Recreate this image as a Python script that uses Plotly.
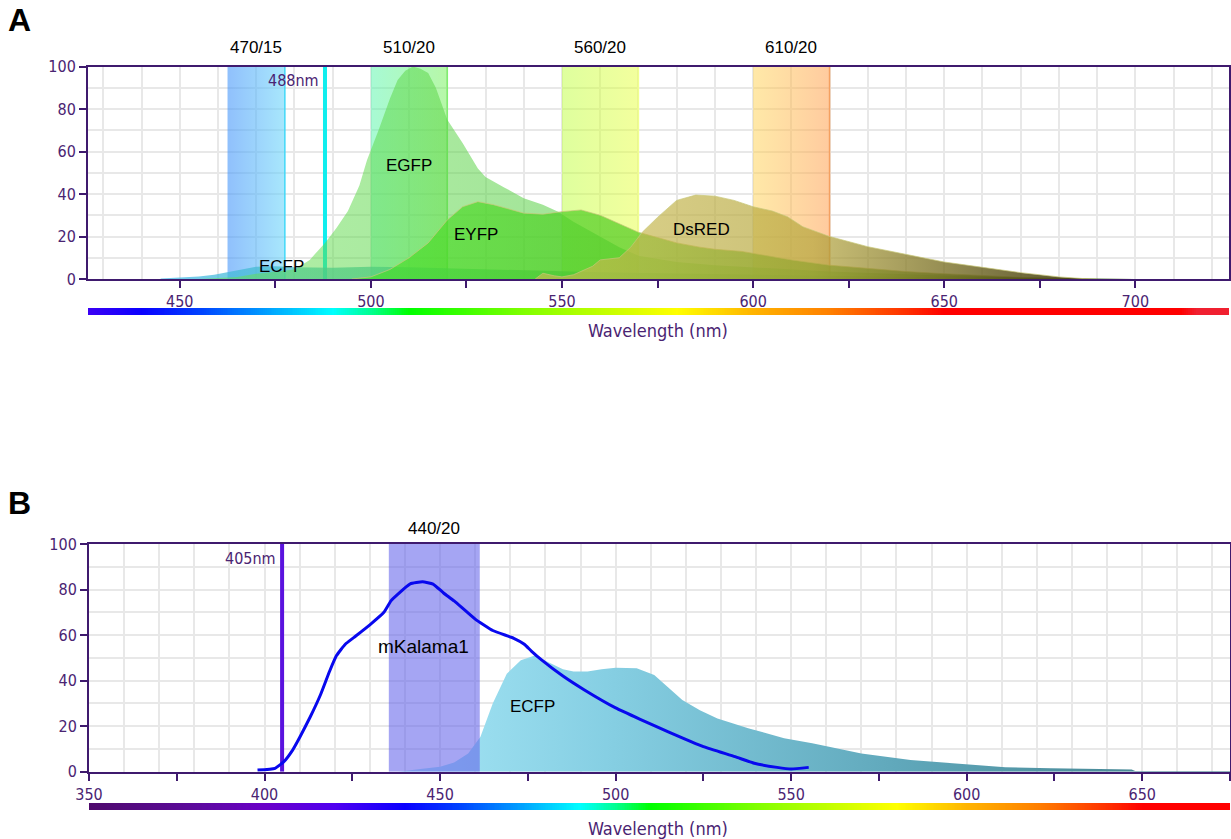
import numpy as np
import plotly.graph_objects as go

W, H = 1231, 839

# ---------------- Panel A data ----------------
A_ECFP_NM = [445, 450, 455, 459, 463, 470, 475, 480, 490, 500, 510, 520, 530, 540, 560, 580, 600, 620, 640, 660, 680, 700]
A_ECFP = [0.2, 0.6, 1.2, 2.0, 3.5, 5.8, 6.0, 5.5, 5.3, 5.8, 5.5, 5.0, 4.5, 4.0, 3.2, 2.6, 2.0, 1.5, 1.0, 0.5, 0.2, 0.0]

A_EGFP_NM = [455, 460, 465, 470, 475, 480, 484, 488, 491, 494, 497, 499, 502, 505, 507, 509, 511, 513, 515, 517, 520, 524,
             528, 530, 535, 540, 545, 549, 553, 557, 561, 565, 570, 575, 580, 590, 600, 610, 620, 640, 660, 680, 700]
A_EGFP = [0, 0.5, 1.0, 2.5, 3.5, 4.5, 9, 17, 24, 32, 44, 56, 70, 85, 93.6, 98, 100, 99, 97, 90, 75, 64,
          52, 48, 43, 38, 35, 31.7, 27, 23, 19, 15, 11, 9.5, 8, 6.5, 5.5, 4.5, 3.5, 2.2, 1.0, 0.3, 0]

A_EYFP_NM = [495, 500, 505, 510, 515, 520, 524, 528, 532, 536, 540, 545, 550, 555, 560, 565, 570, 575, 580, 586,
             590, 597, 600, 610, 620, 630, 640, 650, 660, 670, 680, 690]
A_EYFP = [0, 1.0, 4.5, 10, 17, 27.8, 34, 36.4, 35, 33, 31, 30.5, 31.7, 32.5, 30, 26, 22, 19.5, 17, 15,
          14, 13, 12, 9, 6.5, 5, 3.5, 2.5, 1.5, 0.8, 0.3, 0]

A_DSRED_NM = [543, 545, 548, 550, 553, 555, 558, 560, 563, 565, 568, 571, 575, 580, 585, 590, 595, 600, 605, 609,
              613, 620, 630, 640, 650, 660, 670, 680, 688]
A_DSRED = [0, 2.7, 1.5, 1.0, 2.0, 3.5, 6, 9, 9.5, 10, 15, 22, 29, 37, 39.5, 39, 37, 34, 32, 29.3,
           24.6, 20, 15.2, 11.5, 8, 5.5, 3, 1, 0]

A_BAND_LABELS = ["470/15", "510/20", "560/20", "610/20"]
A_BAND_LO = [462.5, 500, 550, 600]
A_BAND_HI = [477.5, 520, 570, 620]
A_LASER = 488

# ---------------- Panel B data ----------------
B_MKAL_NM = [398, 403, 405.5, 408, 410, 413, 416, 418.5, 420.5, 423, 425.5, 430, 434, 436, 438, 441.5, 445, 448, 451,
             454, 460, 465, 471, 474, 476, 479, 485, 491, 500, 507, 515, 525, 534, 539.5, 546, 550, 555]
B_MKAL = [0.7, 1.5, 4.4, 9.5, 15, 24, 34, 44, 51, 56, 59, 64.5, 70, 75, 78, 82.5, 83.4, 82.4, 78.5,
          75, 67, 62, 58.6, 56, 53, 49, 42, 36, 28, 23, 17.5, 11, 6.6, 3.7, 1.9, 1.2, 1.9]

B_ECFP_NM = [438, 441, 445, 450, 454, 458, 461.5, 465, 469, 473, 477, 481, 485, 488, 492, 496, 500, 506, 511, 515,
             519, 524, 529, 538, 548, 556, 562, 570, 584, 594, 603, 611, 624, 640, 647, 648, 675]
B_ECFP = [0, 0.7, 1.3, 2.2, 4, 8, 15.4, 30, 43, 49, 51, 48, 45, 44, 44, 45, 45.7, 45.4, 42.5, 37,
          31.5, 27, 23.4, 19, 14.7, 12.5, 10.5, 8, 5.1, 4, 2.9, 2, 1.5, 1.2, 1.0, 0.3, 0.3]

B_BAND_LABEL = "440/20"
B_BAND_LO = 435.4
B_BAND_HI = 461.3
B_LASER = 405

# spectrum colour bar stops
SPEC_NM = [350, 380, 400, 420, 440, 455, 470, 490, 500, 510, 540, 570, 580, 600, 620, 640, 650, 712, 716, 725]
SPEC_COL = ["#4e0a6c", "#5c0a9c", "#6a00c8", "#5000f0", "#0a00ff", "#0040ff", "#0090ff", "#00ffff", "#00ff90",
            "#00ff00", "#80ff00", "#e0ff00", "#ffff00", "#ffb400", "#ff8000", "#ff3000", "#ff0000", "#ff0000",
            "#f02030", "#f02030"]

PURPLE = "#3f1a6e"
TICKPURPLE = "#4a2472"
GRID = "#e8e8e8"
NARROW = "Liberation Sans Narrow, Arial Narrow, DejaVu Sans Condensed, sans-serif"
SANS = "Liberation Sans, Arial, sans-serif"

fig = go.Figure()

# ----- Panel A: bands (under spectra) -----
band_scales = [
    [[0, "rgba(70,150,250,0.6)"], [1, "rgba(110,215,250,0.6)"]],
    [[0, "rgba(80,245,170,0.5)"], [1, "rgba(110,240,80,0.5)"]],
    [[0, "rgba(190,255,60,0.5)"], [1, "rgba(230,255,60,0.5)"]],
    [[0, "rgba(255,210,80,0.5)"], [1, "rgba(255,160,80,0.55)"]],
]
band_edges = ["#40d8f8", "#80ee70", "#f0ff90", "#f5a060"]
for lo, hi, sc, ec in zip(A_BAND_LO, A_BAND_HI, band_scales, band_edges):
    fig.add_trace(go.Scatter(x=[lo, lo, hi, hi, lo], y=[0, 100, 100, 0, 0], mode="lines", fill="toself",
                             line=dict(width=0), fillgradient=dict(type="horizontal", colorscale=sc),
                             hoverinfo="skip", showlegend=False, xaxis="x", yaxis="y"))
    fig.add_trace(go.Scatter(x=[hi, hi], y=[0, 100], mode="lines", line=dict(width=1.5, color=ec),
                             hoverinfo="skip", showlegend=False, xaxis="x", yaxis="y"))

fig.add_trace(go.Scatter(x=[A_LASER, A_LASER], y=[0, 100], mode="lines", line=dict(width=4, color="#10eeee"),
                         hoverinfo="skip", showlegend=False, xaxis="x", yaxis="y"))

# ----- Panel A: spectra -----
specA = [
    (A_ECFP_NM, A_ECFP, [[0, "rgba(70,185,235,0.75)"], [0.3, "rgba(60,190,160,0.7)"], [1, "rgba(60,90,30,0.8)"]], 0),
    (A_EGFP_NM, A_EGFP, [[0, "rgba(100,225,80,0.5)"], [0.5, "rgba(80,200,60,0.55)"], [1, "rgba(60,100,20,0.8)"]], 0),
    (A_EYFP_NM, A_EYFP, [[0, "rgba(70,225,40,0.65)"], [0.4, "rgba(80,200,30,0.7)"], [1, "rgba(70,90,20,0.85)"]], 1),
    (A_DSRED_NM, A_DSRED, [[0, "rgba(205,190,80,0.65)"], [0.5, "rgba(180,165,60,0.7)"], [1, "rgba(60,55,15,0.9)"]], 1),
]
for xs, ys, sc, lw in specA:
    fig.add_trace(go.Scatter(x=xs, y=ys, mode="lines", fill="tozeroy",
                             line=dict(width=lw, color="rgba(200,200,120,0.7)" if lw else "rgba(0,0,0,0)"),
                             fillgradient=dict(type="horizontal", colorscale=sc),
                             hoverinfo="skip", showlegend=False, xaxis="x", yaxis="y"))

# ----- Panel B -----
fig.add_trace(go.Scatter(x=B_ECFP_NM, y=B_ECFP, mode="lines", fill="tozeroy", line=dict(width=0),
                         fillgradient=dict(type="horizontal",
                                           colorscale=[[0, "#a6e6f6"], [0.25, "#86cfe3"], [0.6, "#60a8bb"], [1, "#3f7c88"]]),
                         hoverinfo="skip", showlegend=False, xaxis="x2", yaxis="y2"))
fig.add_trace(go.Scatter(x=[B_BAND_LO, B_BAND_LO, B_BAND_HI, B_BAND_HI, B_BAND_LO], y=[0, 100, 100, 0, 0],
                         mode="lines", fill="toself", fillcolor="rgba(100,100,235,0.58)", line=dict(width=0),
                         hoverinfo="skip", showlegend=False, xaxis="x2", yaxis="y2"))
fig.add_trace(go.Scatter(x=[B_LASER, B_LASER], y=[0, 100], mode="lines", line=dict(width=4, color="#5a12de"),
                         hoverinfo="skip", showlegend=False, xaxis="x2", yaxis="y2"))
fig.add_trace(go.Scatter(x=B_MKAL_NM, y=B_MKAL, mode="lines",
                         line=dict(width=3, color="#0808ee", shape="spline", smoothing=0.4),
                         hoverinfo="skip", showlegend=False, xaxis="x2", yaxis="y2"))

# ----- colour bars -----
lo_all, hi_all = SPEC_NM[0], SPEC_NM[-1]
cscale = [[(n - lo_all) / (hi_all - lo_all), c] for n, c in zip(SPEC_NM, SPEC_COL)]
barA = np.arange(426, 725.5, 0.5)
barB = np.arange(350, 675.5, 0.5)
fig.add_trace(go.Heatmap(x=barA, y=[0], z=[barA], colorscale=cscale, zmin=lo_all, zmax=hi_all, showscale=False,
                         hoverinfo="skip", xaxis="x3", yaxis="y3"))
fig.add_trace(go.Heatmap(x=barB, y=[0], z=[barB], colorscale=cscale, zmin=lo_all, zmax=hi_all, showscale=False,
                         hoverinfo="skip", xaxis="x4", yaxis="y4"))


def py(p):
    return 1 - p / H


def px(p):
    return p / W


def xaxis_cfg(dom, rng, start, stop):
    vals = list(range(start, stop + 1, 25))
    return dict(domain=dom, range=rng, tickmode="array", tickvals=vals, automargin=False,
                ticktext=[str(v) if v % 50 == 0 else "" for v in vals],
                ticks="outside", ticklen=7, tickwidth=2, tickcolor=PURPLE,
                tickfont=dict(family=NARROW, size=16, color=TICKPURPLE),
                showline=True, linecolor=PURPLE, linewidth=2, mirror=True, showgrid=False, zeroline=False,
                minor=dict(tickmode="linear", tick0=0, dtick=10, showgrid=True, gridcolor=GRID, gridwidth=1.5,
                           ticks=""))


def yaxis_cfg(dom, anchor):
    return dict(domain=dom, range=[0, 100], anchor=anchor, tickmode="linear", tick0=0, dtick=20, automargin=False,
                ticks="outside", ticklen=7, tickwidth=2, tickcolor=PURPLE,
                tickfont=dict(family=NARROW, size=16, color=TICKPURPLE),
                showline=True, linecolor=PURPLE, linewidth=2, mirror=True, showgrid=True, gridcolor=GRID,
                gridwidth=1.5, zeroline=False,
                minor=dict(tickmode="linear", tick0=0, dtick=10, showgrid=True, gridcolor=GRID, gridwidth=1.5,
                           ticks=""))


xA = [px(88), px(1229)]
xB = [px(89), px(1230)]
fig.update_layout(
    template="none",
    width=W, height=H, margin=dict(l=0, r=0, t=0, b=0, pad=0), autosize=False,
    paper_bgcolor="white", plot_bgcolor="white", showlegend=False,
    xaxis=dict(**xaxis_cfg(xA, [426, 724.5], 450, 700), anchor="y"),
    yaxis=yaxis_cfg([py(279), py(66.5)], "x"),
    xaxis2=dict(**xaxis_cfg(xB, [350, 675], 350, 675), anchor="y2"),
    yaxis2=yaxis_cfg([py(771.7), py(544)], "x2"),
    xaxis3=dict(domain=xA, range=[426, 724.5], visible=False, anchor="y3", automargin=False),
    yaxis3=dict(domain=[py(315), py(308)], visible=False, anchor="x3", automargin=False),
    xaxis4=dict(domain=xB, range=[350, 675], visible=False, anchor="y4", automargin=False),
    yaxis4=dict(domain=[py(810), py(803)], visible=False, anchor="x4", automargin=False),
)


def a(**kw):
    kw.setdefault("showarrow", False)
    kw.setdefault("xanchor", "center")
    kw.setdefault("yanchor", "middle")
    return kw


ann = []
# band labels
for lab, lo, hi in zip(A_BAND_LABELS, A_BAND_LO, A_BAND_HI):
    ann.append(a(x=(lo + hi) / 2, y=py(48), xref="x", yref="paper", text=lab,
                 font=dict(family=SANS, size=17, color="black")))
ann.append(a(x=(B_BAND_LO + B_BAND_HI) / 2, y=py(528), xref="x2", yref="paper", text=B_BAND_LABEL,
             font=dict(family=SANS, size=17, color="black")))
# spectra labels
for t, x, y in [("EGFP", 510, 53.6), ("EYFP", 527.5, 21), ("DsRED", 586.5, 23.5), ("ECFP", 476.5, 6)]:
    ann.append(a(x=x, y=y, xref="x", yref="y", text=t, font=dict(family=SANS, size=17, color="black")))
for t, x, y in [("mKalama1", 445.2, 54.8), ("ECFP", 476.4, 28.8)]:
    ann.append(a(x=x, y=y, xref="x2", yref="y2", text=t,
                 font=dict(family=SANS, size=19 if t == "mKalama1" else 17, color="black")))
# laser labels
ann.append(a(x=A_LASER - 1, y=93.5, xref="x", yref="y", text="488nm", xanchor="right",
             font=dict(family=NARROW, size=16, color=TICKPURPLE)))
ann.append(a(x=B_LASER - 1.3, y=93.5, xref="x2", yref="y2", text="405nm", xanchor="right",
             font=dict(family=NARROW, size=16, color=TICKPURPLE)))
# axis titles
ann.append(a(x=px(658), y=py(330), xref="paper", yref="paper", text="Wavelength (nm)",
             font=dict(family=NARROW, size=18, color=TICKPURPLE)))
ann.append(a(x=px(658), y=py(828), xref="paper", yref="paper", text="Wavelength (nm)",
             font=dict(family=NARROW, size=18, color=TICKPURPLE)))
# panel letters
ann.append(a(x=px(20), y=py(20), xref="paper", yref="paper", text="<b>A</b>",
             font=dict(family=SANS, size=32, color="black")))
ann.append(a(x=px(20), y=py(503), xref="paper", yref="paper", text="<b>B</b>",
             font=dict(family=SANS, size=32, color="black")))
fig.update_layout(annotations=ann)

fig.write_html("out.html", config={"responsive": False, "displayModeBar": False},
               default_width="1231px", default_height="839px",
               post_script="document.body.style.margin='0';document.body.style.padding='0';"
                           "document.body.style.overflow='hidden';")
